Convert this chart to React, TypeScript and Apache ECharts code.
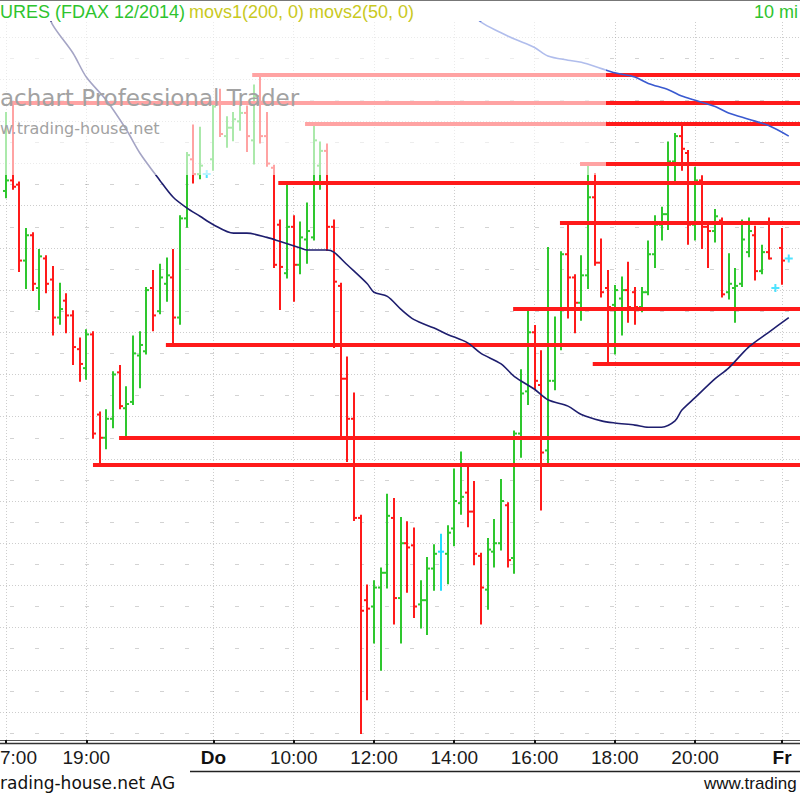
import React, { useEffect, useRef } from "react";
import * as echarts from "echarts";

// ---- OHLC bars (10-minute FDAX bars), index = bar slot; null = no bar ----
const openP = [
  9123.5, 9126, 9125, 9107, 9113, 9100.5, 9107.5, 9102.5, 9093.5, 9097.5,
  9094, 9086, 9081.5, 9089.5, 9070.5, 9065, 9069.5, 9080.5, 9072, 9073.5,
  9084.5, 9085.5, 9100.5, 9095, 9101.5, 9103, 9093.5, 9117, 9131, 9127.5,
  null, 9131, 9144, 9136.5, 9138.5, 9140, 9142, 9135.5, 9146, 9136.5,
  9129, 9115.5, 9104, 9115, 9106, 9112, 9112.5, 9129.5, 9133, 9115,
  9101, 9079, 9069.5, 9046, 9026.5, 9025, 9029.5, 9033, 9046, 9027,
  9040, 9039.5, 9025.5, 9026.5, 9034, 9038, 9037.5, 9043.5, 9049.5, 9052,
  9047.5, 9037, 9029, 9038, 9040, 9049, 9036.5, 9066, 9076, 9090,
  9077.5, 9062, 9078.5, 9087, 9108.5, 9103, 9097, 9103.5, 9122, 9106.5,
  9100.5, 9096.5, 9098, 9100, 9099.5, 9096, 9099.5, 9108.5, 9115.5, 9118,
  9130.5, 9136.5, 9132.5, 9115.5, 9126, 9115, 9114, 9116.5, 9099.5, 9100.5,
  9101.5, 9109, 9113, 9104.5, 9109, null, 9110,
];
const highP = [
  9142, 9144.5, 9125.5, 9114.5, 9113.5, 9109.5, 9108, 9105.5, 9101.5, 9099,
  9095, 9088.5, 9090.5, 9090, 9071, 9071.5, 9080.5, 9082, 9077, 9089,
  9090, 9100.5, 9104.5, 9106, 9107.5, 9109.5, 9117.5, 9132.5, 9139, 9138.5,
  null, 9144.5, 9147.5, 9141, 9142, 9143.5, 9143.5, 9148.5, 9151, 9142,
  9129.5, 9116.5, 9125.5, 9117.5, 9116, 9120.5, 9139.5, 9135, 9134.5, 9116.5,
  9101.5, 9084, 9075.5, 9046.5, 9030, 9031, 9034, 9051.5, 9050.5, 9046,
  9045, 9043.5, 9031, 9036.5, 9039.5, 9042, 9044, 9057.5, 9061.5, 9058.5,
  9054.5, 9037.5, 9041, 9045.5, 9055, 9049.5, 9066.5, 9081, 9095.5, 9091.5,
  9085.5, 9110, 9093.5, 9109, 9116, 9103.5, 9108, 9130, 9127.5, 9112,
  9104.5, 9101, 9103, 9106.5, 9100.5, 9100.5, 9111.5, 9117.5, 9119.5, 9135,
  9137, 9139, 9133, 9129, 9127, 9115.5, 9119, 9117, 9108.5, 9105,
  9116.5, 9117, 9115, 9110.5, 9117, null, 9114.5,
];
const lowP = [
  9122, 9124, 9104.5, 9100.5, 9100, 9095.5, 9099.5, 9089.5, 9092, 9090,
  9082.5, 9078.5, 9079, 9065, 9058.5, 9062.5, 9067.5, 9072, 9065, 9073,
  9077, 9085, 9090.5, 9094.5, 9097.5, 9087, 9092, 9115, 9125.5, 9126.5,
  null, 9128.5, 9136.5, 9134, 9135.5, 9138, 9133, 9130, 9135, 9129.5,
  9105.5, 9095.5, 9103, 9097.5, 9104, 9106.5, 9112, 9124, 9109.5, 9086.5,
  9065.5, 9059.5, 9045.5, 8995, 9003, 9016.5, 9010, 9029.5, 9021, 9016.5,
  9028.5, 9022.5, 9020, 9018.5, 9029, 9029, 9030.5, 9039.5, 9047, 9044,
  9035, 9021, 9024.5, 9034.5, 9038.5, 9034.5, 9033, 9060.5, 9073, 9076.5,
  9048, 9058.5, 9076.5, 9086, 9093.5, 9090, 9093, 9100.5, 9106, 9098.5,
  9082.5, 9085, 9089.5, 9092.5, 9092, 9095, 9099, 9105.5, 9112, 9114.5,
  9125.5, 9128.5, 9111, 9112, 9110, 9105.5, 9111.5, 9098.5, 9098, 9092.5,
  9101, 9108, 9102.5, 9104, 9107.5, null, 9101.5,
];
const closeP = [
  9126, 9124.5, 9107, 9113, 9101.5, 9108, 9101.5, 9093.5, 9095.5, 9094,
  9086.5, 9082.5, 9089.5, 9066, 9065, 9069.5, 9080, 9072.5, 9073, 9085,
  9087, 9100, 9094, 9103, 9103.5, 9093.5, 9117, 9132, 9127.5, 9129.5,
  null, 9143.5, 9137, 9138.5, 9140.5, 9142, 9136.5, 9146, 9136.5, 9130,
  9106, 9105.5, 9115, 9106, 9112.5, 9114, 9135.5, 9133, 9115, 9102,
  9079, 9069.5, 9046, 9024, 9024.5, 9029.5, 9033, 9046.5, 9027, 9040,
  9039, 9025, 9026.5, 9034, 9037.5, 9038, 9042.5, 9050, 9051, 9047.5,
  9037.5, 9029.5, 9038.5, 9040, 9050, 9036, 9066, 9075.5, 9090, 9078.5,
  9061.5, 9078.5, 9087, 9108.5, 9103, 9097, 9103.5, 9122, 9106.5, 9099.5,
  9096, 9100, 9100, 9096, 9096, 9099.5, 9108.5, 9115.5, 9118, 9130.5,
  9136.5, 9133.5, 9115.5, 9126, 9115, 9114, 9117.5, 9099, 9101.5, 9101,
  9112, 9114, 9104.5, 9109, 9107.5, null, 9107,
];

// ---- support / resistance levels ----
const levelPrice = [9151, 9144.5, 9139.5, 9130, 9125.5, 9116, 9095.5, 9087, 9082.5, 9065, 9058.5];
const levelStart = [36.8, 0.6, 44.7, 85.8, 40.7, 82.8, 75.8, 23.9, 87.7, 16.9, 13.0];

// ---- moving averages [bar index, value] ----
const movs2 = [
  [6, 9167], [7, 9162.8], [10, 9156.2], [12, 9150.5], [15, 9145], [18, 9138], [20, 9132.5],
  [23, 9126], [25, 9122], [27, 9119.5], [29, 9117.5], [31, 9115.5], [34, 9113.5], [36, 9113.5],
  [39, 9112.5], [41, 9111.5], [44, 9110], [45, 9109.5], [48, 9109.5], [49, 9109], [51, 9106],
  [54, 9101.5], [55, 9099.5], [57, 9098.5], [59, 9095.5], [61, 9093], [64, 9091], [66, 9089.5],
  [69, 9087.5], [71, 9085], [74, 9082.5], [76, 9079.5], [79, 9076.5], [81, 9074], [84, 9072.5],
  [86, 9070.5], [89, 9069], [91, 9068.5], [94, 9068], [96, 9067.5], [98, 9067.5], [100, 9069],
  [101, 9071.5], [103, 9074.5], [106, 9079], [108, 9081.5], [111, 9086.5], [114, 9090], [117, 9093.5],
];
const movs1 = [
  [70, 9165.5], [71, 9163.5], [74, 9161], [76, 9159.5], [79, 9157.5], [81, 9155.5], [84, 9154.5],
  [86, 9154], [89, 9152.5], [91, 9151.5], [94, 9150.5], [96, 9149], [99, 9147.5], [101, 9146],
  [103, 9145], [106, 9143.5], [108, 9142], [111, 9140.5], [114, 9139], [117, 9136.5],
];

const markers = [[30, 9127.5], [115, 9100.5], [117, 9107.5]];

// ---- axes ----
const tickIndex = [0, 12, 31, 43, 55, 67, 79, 91, 103, 116];
const tickText = ["7:00", "19:00", "Do", "10:00", "12:00", "14:00", "16:00", "18:00", "20:00", "Fr"];
const gridPrices = [9000, 9010, 9020, 9030, 9040, 9050, 9060, 9070, 9080, 9090, 9100, 9110, 9120, 9130, 9140, 9150, 9160];
const minorPrices = [8995, 9005, 9015, 9025, 9035, 9045, 9055, 9065, 9075, 9085, 9095, 9105, 9115, 9125, 9135, 9145, 9155];

const X_MIN = -0.897;
const X_MAX = 118.68;
const Y_MIN = 8993.36;
const Y_MAX = 9163.55;

const GREEN = "#2ec72e";
const RED = "#ff1a1a";
const CYAN = "#22dcff";

function buildOption() {
  const bars: number[][] = [];
  for (let i = 0; i < openP.length; i++) {
    if (openP[i] == null) continue;
    bars.push([i, openP[i] as number, highP[i] as number, lowP[i] as number, closeP[i] as number]);
  }

  const gridStyle = { color: "#9c9c9c", width: 1, type: [1, 2] };

  return {
    animation: false,
    backgroundColor: "#ffffff",
    grid: { left: 0, right: 0, top: 22, bottom: 60, containLabel: false, outerBoundsMode: "none" },
    xAxis: {
      type: "value",
      min: X_MIN,
      max: X_MAX,
      axisLine: { show: false },
      splitLine: { show: false },
      axisTick: {
        show: true,
        customValues: tickIndex,
        length: 3,
        lineStyle: { color: "#111", width: 2 },
      },
      axisLabel: {
        show: true,
        customValues: tickIndex,
        margin: 8,
        color: "#1a1a1a",
        fontFamily: "Liberation Sans",
        fontSize: 19,
        hideOverlap: false,
        formatter: (v: number) => {
          const k = tickIndex.indexOf(Math.round(v));
          const t = k >= 0 ? tickText[k] : "";
          if (t === "Do" || t === "Fr") return "{b|" + t + "}";
          if (k === 0) return "{s|" + t + "}";
          return t;
        },
        rich: {
          b: { fontWeight: "bold", fontFamily: "Liberation Sans", fontSize: 19, color: "#111" },
          s: { fontFamily: "Liberation Sans", fontSize: 19, color: "#1a1a1a", padding: [0, 0, 0, 25] },
        },
      },
    },
    yAxis: {
      type: "value",
      min: Y_MIN,
      max: Y_MAX,
      show: false,
      splitLine: { show: false },
    },
    series: [
      {
        type: "lines",
        coordinateSystem: "cartesian2d",
        silent: true,
        lineStyle: gridStyle,
        data: gridPrices.map((p) => ({ coords: [[X_MIN, p], [X_MAX, p]] })),
        z: 1,
      },
      {
        type: "lines",
        coordinateSystem: "cartesian2d",
        silent: true,
        lineStyle: { color: "#a8a8a8", width: 1, type: [4, 21], dashOffset: 14.5 },
        data: minorPrices.map((p) => ({ coords: [[X_MIN, p], [X_MAX, p]] })),
        z: 1,
      },
      {
        type: "lines",
        coordinateSystem: "cartesian2d",
        silent: true,
        lineStyle: gridStyle,
        data: tickIndex.map((t) => ({ coords: [[t, Y_MIN], [t, Y_MAX]] })),
        z: 1,
      },
      {
        type: "custom",
        clip: true,
        silent: true,
        encode: { x: 0, y: [1, 2, 3, 4] },
        data: bars,
        renderItem: (params: any, api: any) => {
          const i = api.value(0);
          const o = api.value(1);
          const h = api.value(2);
          const l = api.value(3);
          const c = api.value(4);
          const pH = api.coord([i, h]);
          const pL = api.coord([i, l]);
          const pO = api.coord([i, o]);
          const pC = api.coord([i, c]);
          const color = c > o ? GREEN : c < o ? RED : CYAN;
          const x = Math.round(pH[0]);
          const st = { stroke: color, lineWidth: 2 };
          return {
            type: "group",
            children: [
              { type: "line", shape: { x1: x, y1: pH[1] - 1, x2: x, y2: pL[1] + 1 }, style: st },
              { type: "line", shape: { x1: x - 3, y1: pO[1], x2: x, y2: pO[1] }, style: st },
              { type: "line", shape: { x1: x, y1: pC[1], x2: x + 3, y2: pC[1] }, style: st },
            ],
          };
        },
        z: 3,
      },
      {
        type: "lines",
        coordinateSystem: "cartesian2d",
        silent: true,
        lineStyle: { color: RED, width: 4, opacity: 1 },
        data: levelPrice.map((p, k) => ({ coords: [[levelStart[k], p], [X_MAX, p]] })),
        z: 4,
      },
      {
        type: "line",
        data: movs2,
        showSymbol: false,
        symbol: "none",
        smooth: 0.3,
        clip: true,
        silent: true,
        lineStyle: { color: "#1e1e6e", width: 1.6 },
        z: 5,
      },
      {
        type: "line",
        data: movs1,
        showSymbol: false,
        symbol: "none",
        smooth: 0.3,
        clip: true,
        silent: true,
        lineStyle: { color: "#3a5ad0", width: 1.6 },
        z: 5,
      },
      {
        type: "scatter",
        data: markers,
        symbol: "path://M3,0h2v3h3v2h-3v3h-2v-3h-3v-2h3z",
        symbolSize: 8,
        silent: true,
        itemStyle: { color: CYAN },
        z: 6,
      },
    ],
    graphic: {
      elements: [
        { type: "line", shape: { x1: 0, y1: 0.5, x2: 800, y2: 0.5 }, style: { stroke: "#777", lineWidth: 1 } },
        {
          type: "rect",
          shape: { x: 0, y: 22, width: 606, height: 153 },
          style: { fill: "rgba(255,255,255,0.6)" },
          z: 50,
          silent: true,
        },
        {
          type: "text",
          x: 0,
          y: 98,
          z: 60,
          style: {
            text: "achart Professional Trader",
            fill: "#a2a2a2",
            fontFamily: "DejaVu Sans",
            fontSize: 23,
            verticalAlign: "middle",
            align: "left",
          },
        },
        {
          type: "text",
          x: 0,
          y: 128,
          z: 60,
          style: {
            text: "w.trading-house.net",
            fill: "#a2a2a2",
            fontFamily: "DejaVu Sans",
            fontSize: 16,
            verticalAlign: "middle",
            align: "left",
          },
        },
        {
          type: "text",
          x: 0,
          y: 12,
          style: {
            text: "URES (FDAX 12/2014)",
            fill: "#2ec42e",
            fontFamily: "Liberation Sans",
            fontSize: 18,
            verticalAlign: "middle",
          },
        },
        {
          type: "text",
          x: 189,
          y: 12,
          style: {
            text: "movs1(200, 0) movs2(50, 0)",
            fill: "#c9c91e",
            fontFamily: "Liberation Sans",
            fontSize: 18,
            verticalAlign: "middle",
          },
        },
        {
          type: "text",
          x: 754,
          y: 12,
          style: {
            text: "10 mi",
            fill: "#2ec42e",
            fontFamily: "Liberation Sans",
            fontSize: 18,
            verticalAlign: "middle",
          },
        },
        { type: "line", shape: { x1: 0, y1: 740.5, x2: 800, y2: 740.5 }, style: { stroke: "#555", lineWidth: 1 } },
        { type: "line", shape: { x1: 0, y1: 743.5, x2: 800, y2: 743.5 }, style: { stroke: "#333", lineWidth: 1.5 } },
        { type: "line", shape: { x1: 190, y1: 771.5, x2: 800, y2: 771.5 }, style: { stroke: "#222", lineWidth: 1.5 } },
        {
          type: "text",
          x: 0,
          y: 783,
          style: {
            text: "rading-house.net AG",
            fill: "#111",
            fontFamily: "DejaVu Sans",
            fontSize: 17,
            verticalAlign: "middle",
          },
        },
        {
          type: "text",
          x: 704,
          y: 783,
          style: {
            text: "www.trading",
            fill: "#111",
            fontFamily: "Liberation Sans",
            fontSize: 17,
            verticalAlign: "middle",
          },
        },
      ],
    },
  };
}

export default function App() {
  const ref = useRef<HTMLDivElement>(null);
  useEffect(() => {
    if (!ref.current) return;
    const chart = echarts.init(ref.current, null, { renderer: "svg" });
    chart.setOption(buildOption() as any);
    return () => chart.dispose();
  }, []);
  return (
    <div
      ref={ref}
      style={{ position: "absolute", left: 0, top: 0, width: 800, height: 800, background: "#fff" }}
    />
  );
}
